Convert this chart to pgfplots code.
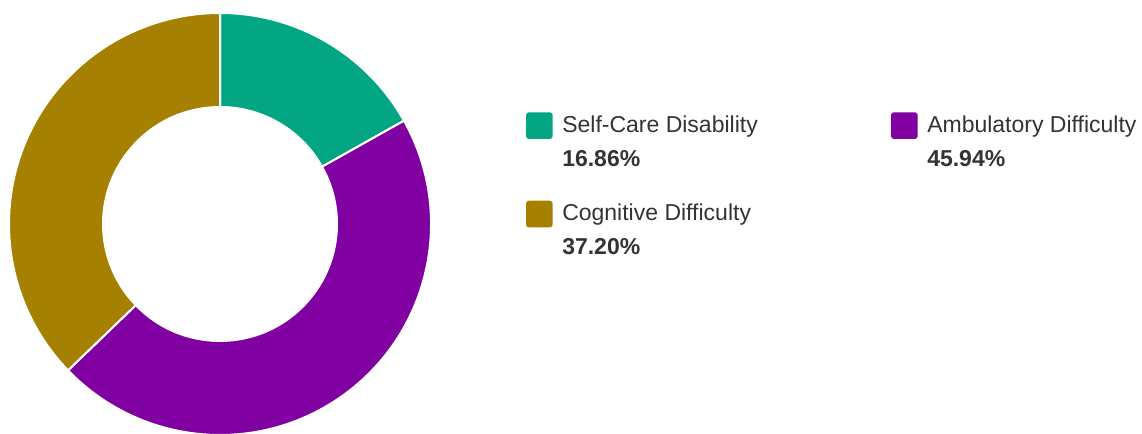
\documentclass[border=0pt]{standalone}
\usepackage{pgfplots}
\usepackage{pgfplotstable}
\pgfplotsset{compat=1.18}
\usepackage{fontspec}
\setmainfont{Liberation Sans}

\definecolor{selfcare}{RGB}{2,166,131}
\definecolor{ambul}{RGB}{128,0,161}
\definecolor{cognit}{RGB}{166,128,0}
\definecolor{txt}{RGB}{51,51,51}

% shares in percent, clockwise from 12 o'clock
\pgfplotstableread[col sep=comma]{
label,value
Self-Care Disability,16.86
Ambulatory Difficulty,45.94
Cognitive Difficulty,37.20
}\shares

\begin{document}
\begin{tikzpicture}
\pgfplotstablegetelem{0}{value}\of\shares \let\va\pgfplotsretval
\pgfplotstablegetelem{1}{value}\of\shares \let\vb\pgfplotsretval
\pgfplotstablegetelem{2}{value}\of\shares \let\vc\pgfplotsretval
\pgfplotstablegetelem{0}{label}\of\shares \let\la\pgfplotsretval
\pgfplotstablegetelem{1}{label}\of\shares \let\lb\pgfplotsretval
\pgfplotstablegetelem{2}{label}\of\shares \let\lc\pgfplotsretval
\pgfmathsetmacro\angA{90}
\pgfmathsetmacro\angB{\angA-3.6*\va}
\pgfmathsetmacro\angC{\angB-3.6*\vb}
\pgfmathsetmacro\angD{\angC-3.6*\vc}

% one ring segment: start angle, end angle, colour (centre 220,210; radii 211 / 117 px)
\newcommand\slice[3]{%
  \fill[#3, draw=white, line width=1.5pt]
    ({220+211*cos(#1)},{210+211*sin(#1)})
    arc[start angle=#1, end angle=#2, radius=158.25pt]
    -- ({220+117*cos(#2)},{210+117*sin(#2)})
    arc[start angle=#2, end angle=#1, radius=87.75pt] -- cycle;}
% legend entry: x, y (top of key), colour, label, value
\newcommand\entry[5]{%
  \fill[#3, rounded corners=2.2pt] (#1,#2-26.7) rectangle (#1+26.7,#2);
  \node[anchor=base west, inner sep=0, text=txt, font=\fontsize{17.25}{20}\selectfont]
    at (#1+36,#2-19.8) {#4};
  \node[anchor=base west, inner sep=0, text=txt, font=\fontsize{17.25}{20}\selectfont\bfseries]
    at (#1+36,#2-54) {#5\%};}

\begin{axis}[
    x=0.75pt, y=0.75pt,
    xmin=0, xmax=1142, ymin=0, ymax=434,
    hide axis, clip=false,
  ]
  \slice{\angA}{\angB}{selfcare}
  \slice{\angB}{\angC}{ambul}
  \slice{\angC}{\angD}{cognit}
  \entry{526}{321.7}{selfcare}{\la}{\va}
  \entry{891}{321.7}{ambul}{\lb}{\vb}
  \entry{526}{233.3}{cognit}{\lc}{\vc}
\end{axis}
\pgfresetboundingbox
\path[use as bounding box] (0,0) rectangle (856.5pt,325.5pt);
\end{tikzpicture}
\end{document}
